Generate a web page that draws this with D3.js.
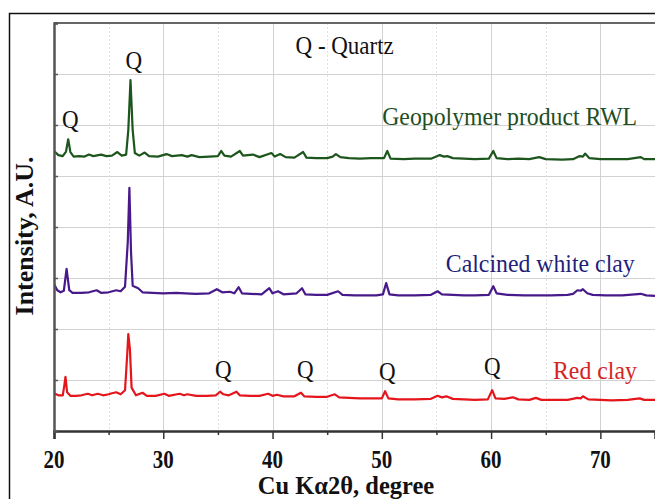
<!DOCTYPE html>
<html>
<head>
<meta charset="utf-8">
<script src="https://cdn.jsdelivr.net/npm/d3@7"></script>
<style>
  html, body { margin: 0; padding: 0; background: #fff; }
  svg { display: block; }
  text { font-family: "Liberation Serif", "Times New Roman", serif; }
</style>
</head>
<body>
<div id="chart"></div>
<script>
// 2-theta positions and intensities (a.u.)
const greenTheta = [20.0, 20.4, 20.8, 21.1, 21.3, 21.5, 21.8, 22.3, 22.8, 23.2, 23.6, 24.3, 24.8, 25.3, 25.8, 26.2, 26.6, 26.8, 27.0, 27.2, 27.4, 27.8, 28.3, 28.7, 29.5, 30.3, 30.8, 31.7, 32.2, 32.6, 33.3, 34.2, 35.0, 35.3, 35.6, 36.2, 37.0, 37.3, 38.2, 38.8, 39.9, 40.2, 40.7, 41.2, 42.0, 42.8, 43.1, 44.0, 45.0, 45.5, 45.8, 46.2, 47.0, 48.0, 49.0, 50.2, 50.5, 50.8, 52.0, 53.0, 54.5, 55.3, 55.7, 56.0, 56.5, 57.5, 58.5, 59.8, 60.2, 60.5, 61.5, 62.5, 63.5, 64.4, 65.0, 66.5, 67.5, 68.1, 68.4, 68.6, 69.0, 70.0, 71.0, 72.5, 73.7, 74.0, 75.0];
const greenInt = [5490, 5410, 5390, 5480, 5720, 5470, 5380, 5390, 5380, 5420, 5390, 5420, 5390, 5400, 5470, 5400, 5420, 5900, 6880, 5900, 5450, 5400, 5460, 5390, 5380, 5430, 5390, 5410, 5380, 5410, 5370, 5380, 5390, 5490, 5400, 5380, 5490, 5400, 5420, 5370, 5450, 5380, 5430, 5370, 5360, 5470, 5360, 5350, 5350, 5380, 5430, 5370, 5350, 5340, 5350, 5350, 5490, 5340, 5330, 5340, 5340, 5410, 5380, 5390, 5350, 5340, 5330, 5340, 5490, 5350, 5330, 5340, 5330, 5370, 5330, 5320, 5330, 5390, 5380, 5440, 5350, 5330, 5330, 5330, 5370, 5330, 5330];

const purpleTheta = [20.0, 20.3, 20.6, 20.9, 21.15, 21.4, 21.7, 22.5, 23.2, 23.9, 24.3, 25.0, 25.7, 26.1, 26.5, 26.75, 26.9, 27.05, 27.2, 27.7, 28.1, 29.0, 30.0, 31.2, 32.0, 33.0, 34.2, 34.9, 35.4, 36.1, 36.5, 36.9, 37.2, 38.0, 39.0, 39.7, 40.0, 40.5, 41.0, 42.2, 42.7, 43.0, 44.0, 45.0, 46.0, 46.4, 47.5, 48.5, 49.5, 50.1, 50.4, 50.7, 51.5, 53.0, 54.5, 55.1, 55.5, 56.5, 57.5, 58.5, 59.8, 60.2, 60.5, 61.5, 63.0, 64.5, 65.5, 67.0, 67.5, 67.9, 68.2, 68.4, 68.8, 69.3, 70.5, 72.0, 73.7, 74.2, 75.0];
const purpleInt = [2880, 2760, 2720, 2750, 3180, 2760, 2710, 2710, 2720, 2760, 2710, 2720, 2760, 2740, 2830, 3700, 4770, 3500, 2850, 2800, 2720, 2710, 2700, 2710, 2700, 2690, 2700, 2780, 2720, 2730, 2700, 2820, 2700, 2690, 2680, 2800, 2700, 2740, 2680, 2700, 2800, 2680, 2670, 2670, 2740, 2670, 2660, 2660, 2660, 2680, 2900, 2680, 2660, 2660, 2670, 2740, 2680, 2670, 2660, 2660, 2670, 2840, 2700, 2670, 2660, 2660, 2660, 2670, 2690, 2760, 2750, 2780, 2700, 2670, 2660, 2660, 2690, 2660, 2650];

const redTheta = [20.0, 20.4, 20.8, 20.95, 21.05, 21.2, 21.5, 22.0, 22.5, 23.1, 23.5, 24.0, 24.5, 25.0, 25.3, 25.7, 26.1, 26.5, 26.7, 26.8, 26.95, 27.1, 27.5, 28.1, 28.5, 29.3, 30.1, 30.5, 31.5, 31.9, 32.2, 33.0, 34.0, 34.8, 35.2, 35.5, 36.0, 36.2, 36.7, 37.0, 38.0, 38.8, 39.6, 40.0, 40.4, 41.0, 42.0, 42.6, 42.9, 44.0, 45.0, 45.7, 46.1, 47.0, 48.0, 49.0, 50.0, 50.3, 50.6, 51.5, 53.0, 54.5, 55.1, 55.5, 55.9, 56.5, 57.5, 58.5, 59.7, 60.1, 60.4, 61.2, 62.0, 62.5, 63.5, 64.1, 64.6, 66.0, 67.0, 67.9, 68.2, 68.4, 68.9, 70.0, 71.0, 72.5, 73.6, 74.0, 75.0];
const redInt = [740, 700, 700, 900, 1060, 760, 690, 690, 700, 730, 700, 730, 700, 720, 740, 760, 720, 800, 1500, 1900, 1600, 850, 700, 750, 690, 690, 730, 690, 730, 700, 720, 690, 690, 700, 770, 720, 700, 720, 770, 700, 690, 690, 730, 690, 710, 680, 680, 750, 680, 670, 670, 720, 660, 650, 640, 640, 640, 780, 640, 620, 620, 630, 690, 660, 680, 630, 620, 610, 620, 800, 640, 630, 660, 620, 610, 650, 610, 610, 610, 650, 640, 680, 620, 610, 600, 610, 640, 610, 610];

const seriesNames = ['Geopolymer product RWL', 'Calcined white clay', 'Red clay'];
const seriesColors = ['#1d561d', '#48198a', '#e4161c'];
const labelColors = ['#1f4f1f', '#1f1f7a', '#d42424'];
// label anchor (2-theta, intensity) for each series name
const labelTheta = [61.7, 64.5, 69.5];
const labelInt = [6000, 3120, 1020];

// Q markers: [2-theta, intensity]
const qMarks = [[21.5, 5950], [27.3, 7100], [35.5, 1040], [43.0, 1040], [50.5, 1000], [60.1, 1100]];

const xTicks = [20, 30, 40, 50, 60, 70];
const xMinor = [25, 35, 45, 55, 65, 75];
const yTicks = [0, 1000, 2000, 3000, 4000, 5000, 6000, 7000, 8000];

const width = 655, height = 499;
const svg = d3.select('#chart').append('svg')
    .attr('width', width).attr('height', height);

svg.append('rect')
    .attr('width', width).attr('height', height)
    .attr('fill', '#fff');

const plot = { left: 54, right: 655, top: 23, bottom: 431 };

const x = d3.scaleLinear().domain([20, 75]).range([plot.left, plot.right]);
const y = d3.scaleLinear().domain([0, 8000]).range([plot.bottom, plot.top]);

// gridlines as 1px rectangles
const grid = svg.append('g').attr('class', 'grid');

grid.selectAll('rect.gy')
    .data(yTicks.slice(1, -1))
    .join('rect')
    .attr('class', 'gy')
    .attr('x', plot.left).attr('width', plot.right - plot.left)
    .attr('y', d => Math.round(y(d))).attr('height', 1)
    .attr('fill', '#d2d2d2');

grid.selectAll('rect.gx')
    .data(xTicks.slice(1))
    .join('rect')
    .attr('class', 'gx')
    .attr('x', d => Math.round(x(d))).attr('width', 1)
    .attr('y', plot.top).attr('height', plot.bottom - plot.top)
    .attr('fill', '#d2d2d2');

// dotted minor verticals
xMinor.forEach(t => {
    grid.selectAll(null)
        .data(d3.range(plot.top, plot.bottom, 4))
        .join('rect')
        .attr('x', Math.round(x(t))).attr('width', 1)
        .attr('y', d => d).attr('height', 2)
        .attr('fill', '#e0e0e0');
});

// outer frame of the figure
svg.append('rect')
    .attr('x', 9.5).attr('y', 13.5)
    .attr('width', 700).attr('height', 600)
    .attr('fill', 'none').attr('stroke', '#111').attr('stroke-width', 1.5);

// top border of the plot
svg.append('rect')
    .attr('x', plot.left).attr('y', plot.top - 1)
    .attr('width', plot.right - plot.left).attr('height', 2)
    .attr('fill', '#666');

// clip for the patterns
svg.append('clipPath').attr('id', 'clip')
    .append('rect')
    .attr('x', plot.left).attr('y', plot.top)
    .attr('width', plot.right - plot.left).attr('height', plot.bottom - plot.top);

const line = d3.line()
    .x(d => x(d[0]))
    .y(d => y(d[1]))
    .curve(d3.curveLinear);

const series = [
    d3.zip(greenTheta, greenInt),
    d3.zip(purpleTheta, purpleInt),
    d3.zip(redTheta, redInt)
];

svg.append('g').attr('clip-path', 'url(#clip)')
    .selectAll('path')
    .data(series)
    .join('path')
    .attr('d', line)
    .attr('fill', 'none')
    .attr('stroke', (d, i) => seriesColors[i])
    .attr('stroke-width', 2.2)
    .attr('stroke-linejoin', 'round');

// text helper: the reference font is slightly stretched vertically
function addText(px, py, txt, size, opts = {}) {
    return svg.append('text')
        .attr('transform', `translate(${px},${py}) scale(1,${opts.sy || 1.1})${opts.rotate ? ' rotate(' + opts.rotate + ')' : ''}`)
        .attr('text-anchor', opts.anchor || 'middle')
        .attr('font-size', size)
        .attr('font-weight', opts.weight || 'normal')
        .attr('fill', opts.fill || '#111')
        .text(txt);
}

seriesNames.forEach((name, i) => {
    addText(x(labelTheta[i]), y(labelInt[i]), name, 23.8, { fill: labelColors[i] });
});

qMarks.forEach(([t, v]) => addText(x(t), y(v), 'Q', 23));
addText(x(46.6), y(7390), 'Q - Quartz', 23);

// x axis
const xAxis = svg.append('g')
    .attr('class', 'x-axis')
    .attr('transform', `translate(0,${plot.bottom})`)
    .call(d3.axisBottom(x).tickValues(xTicks).tickSize(8).tickFormat(''));
svg.append('g')
    .attr('class', 'x-axis')
    .attr('transform', `translate(0,${plot.bottom})`)
    .call(d3.axisBottom(x).tickValues(xMinor).tickSize(4).tickFormat(''))
    .call(g => g.select('.domain').remove());
svg.selectAll('.x-axis .tick line').attr('stroke', '#333').attr('stroke-width', 1.5);
xAxis.select('.domain').attr('stroke', '#333').attr('stroke-width', 2.5);

xTicks.forEach(t => addText(x(t), 468, String(t), 21, { weight: 'bold', sy: 1.15 }));

// y axis line with inward ticks
svg.append('g')
    .attr('transform', `translate(${plot.left},0)`)
    .call(d3.axisLeft(y).tickValues(yTicks).tickSize(-4).tickFormat(''))
    .call(g => g.select('.domain').attr('stroke', '#555').attr('stroke-width', 2.5))
    .call(g => g.selectAll('.tick line').attr('stroke', '#555').attr('stroke-width', 1.5));

// axis titles
addText(346, 494, 'Cu K\u03b12\u03b8, degree', 24.5, { weight: 'bold', sy: 1.05 });
addText(33, 236, 'Intensity, A.U.', 26, { weight: 'bold', sy: 1, rotate: -90 });
</script>
</body>
</html>
